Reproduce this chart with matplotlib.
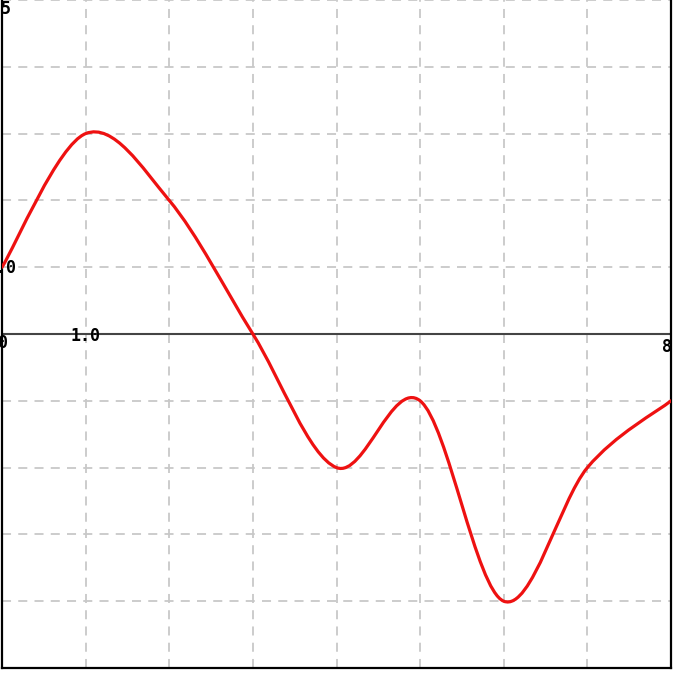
import numpy as np
import matplotlib
matplotlib.use("Agg")
import matplotlib.pyplot as plt
from matplotlib.path import Path
from matplotlib.patches import PathPatch

x_vals = [0, 1, 2, 3, 4, 5, 6, 7, 8]
y_vals = [1, 3, 2, 0, -2, -1, -4, -2, -1]

x_ticks = [0, 1, 2, 3, 4, 5, 6, 7, 8]
y_ticks = [-5, -4, -3, -2, -1, 0, 1, 2, 3, 4, 5]


def smooth_path(xs, ys):
    # catmull-rom segments turned into cubic bezier pieces
    pts = np.column_stack([xs, ys]).astype(float)
    ext = np.vstack([pts[0], pts, pts[-1]])
    verts = [tuple(pts[0])]
    codes = [Path.MOVETO]
    for i in range(1, len(ext) - 2):
        p0, p1, p2, p3 = ext[i - 1], ext[i], ext[i + 1], ext[i + 2]
        c1 = p1 + (p2 - p0) / 6.0
        c2 = p2 - (p3 - p1) / 6.0
        verts += [tuple(c1), tuple(c2), tuple(p2)]
        codes += [Path.CURVE4] * 3
    return Path(verts, codes)


W, H = 700, 674
fig = plt.figure(figsize=(W / 100, H / 100), dpi=100)
ax = fig.add_axes([2 / W, 6 / H, 669 / W, 668 / H])
ax.set_xlim(0, 8)
ax.set_ylim(-5, 5)

for xv in x_ticks:
    ax.axvline(xv, color="#c8c8c8", lw=1.3, ls=(0, (5, 4)), zorder=1)
for yv in y_ticks:
    ax.axhline(yv, color="#c8c8c8", lw=1.3, ls=(0, (5, 4)), zorder=1)
ax.axhline(0, color="#444444", lw=1.5, zorder=2)

ax.add_patch(PathPatch(smooth_path(x_vals, y_vals), fill=False,
                       edgecolor="#ee1111", lw=2.3, zorder=3,
                       joinstyle="round", capstyle="round"))

ax.set_xticks([])
ax.set_yticks([])
for s in ["left", "right", "bottom"]:
    ax.spines[s].set_color("black")
    ax.spines[s].set_linewidth(1.6)
ax.spines["top"].set_visible(False)

font = dict(family="DejaVu Sans Mono", weight="bold", size=12, color="black")
tr = fig.transFigure


def px(x, y):
    return x / W, 1 - y / H


fig.text(*px(85, 336), "1.0", ha="center", va="center", transform=tr, **font)
fig.text(*px(3, 343), "0", ha="center", va="center", transform=tr, **font)
fig.text(*px(672, 347), "8", ha="right", va="center", transform=tr, **font)
fig.text(*px(17, 268), "1.0", ha="right", va="center", transform=tr, **font)
fig.text(*px(1, 0), "5", ha="left", va="top", transform=tr, **font)

fig.savefig("out.png", dpi=100)
